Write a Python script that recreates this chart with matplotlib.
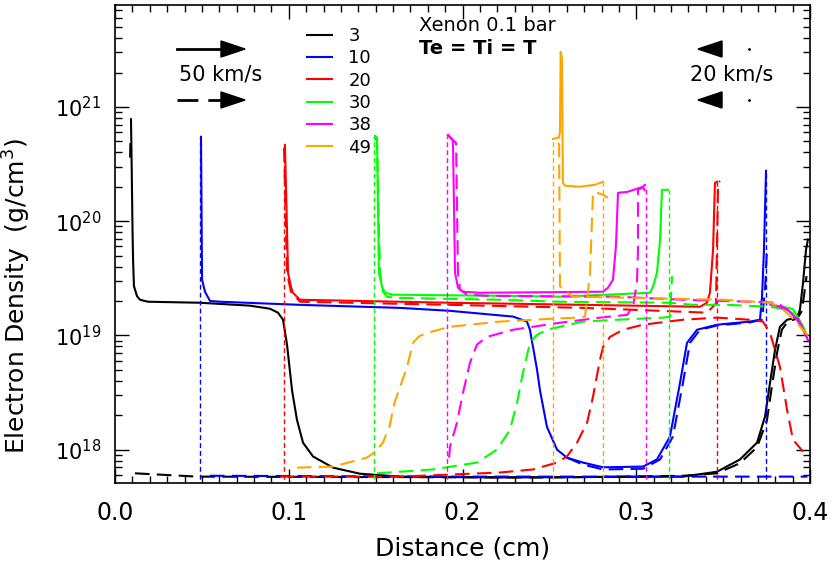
import numpy as np
import matplotlib.pyplot as plt
from matplotlib.patches import Polygon
from matplotlib.ticker import MultipleLocator, LogLocator, FormatStrFormatter, NullFormatter

nan = np.nan

# legend labels (times) and colours
times = ['3', '10', '20', '30', '38', '49']
colors = ['black', '#0000ff', '#ff0000', '#00ff00', '#ff00ff', '#ffa500']

# t = 3 : solid and long dashed
x3 = [0.0092, 0.0096, 0.0101, 0.0104, 0.0109, 0.0127, 0.0144, 0.0190, 0.0489, 0.0777, 0.0892, 0.0938,
      0.0967, 0.0990, 0.1019, 0.1047, 0.1082, 0.1140, 0.1255, 0.1410, 0.1640, 0.2216, 0.3269, 0.3465,
      0.3597, 0.3695, 0.3741, 0.3770, 0.3799, 0.3827, 0.3868, 0.3925, 0.3942, 0.3960, 0.3977, 0.3988]
n3 = [7.8e20, 3.0e20, 8.0e19, 4.6e19, 2.7e19, 2.2e19, 2.05e19, 1.97e19, 1.93e19, 1.82e19, 1.71e19, 1.58e19,
      1.37e19, 8.3e18, 3.3e18, 1.83e18, 1.15e18, 8.7e17, 6.95e17, 6.15e17, 5.8e17, 5.7e17, 5.8e17, 6.4e17,
      8.2e17, 1.15e18, 1.94e18, 3.85e18, 7.5e18, 1.19e19, 1.37e19, 1.43e19, 1.67e19, 2.9e19, 5.6e19, 6.9e19]
x3d = [0.0087, 0.0089, nan, 0.0115, 0.0472, 0.2500, 0.3269, 0.3465, 0.3597, 0.3695, 0.3752,
       0.3781, 0.3810, 0.3838, 0.3873, 0.3925, 0.3950, 0.3965, 0.3980]
n3d = [3.6e20, 5.1e20, nan, 6.2e17, 5.8e17, 5.7e17, 5.9e17, 6.2e17, 7.6e17, 1.05e18, 1.8e18,
       3.6e18, 7.0e18, 1.12e19, 1.33e19, 1.4e19, 1.6e19, 2.2e19, 3.3e19]

# t = 10
x10 = [0.0495, 0.0501, 0.0518, 0.0547, 0.0604, 0.1065, 0.1640, 0.1928, 0.2291, 0.2371, 0.2388, 0.2406,
       0.2429, 0.2446, 0.2486, 0.2544, 0.2601, 0.2693, 0.2809, 0.3039, 0.3119, 0.3194, 0.3252, 0.3292,
       0.3350, 0.3465, 0.3655, 0.3712, 0.3724, 0.3735, 0.3747]
n10 = [5.47e20, 3.07e19, 2.41e19, 2.0e19, 1.97e19, 1.85e19, 1.74e19, 1.64e19, 1.46e19, 1.32e19, 1.12e19, 7.9e18,
       5.0e18, 3.3e18, 1.58e18, 1.0e18, 8.5e17, 7.7e17, 7.0e17, 7.1e17, 8.2e17, 1.3e18, 3.85e18, 8.6e18,
       1.12e19, 1.24e19, 1.32e19, 1.37e19, 2.18e19, 5.6e19, 2.76e20]
x10d = [0.0547, 0.2000, 0.3985, nan,
        0.2601, 0.2693, 0.2809, 0.3039, 0.3137, 0.3211, 0.3269, 0.3309, 0.3367, 0.3465, 0.3655, 0.3724,
        0.3741, 0.3752]
n10d = [5.9e17, 5.8e17, 5.8e17, nan,
        8.5e17, 7.4e17, 6.7e17, 6.8e17, 8.2e17, 1.3e18, 3.85e18, 8.6e18, 1.12e19, 1.22e19, 1.3e19, 1.37e19,
        2.5e19, 5.6e19]

# t = 20
x20 = [0.0978, 0.0996, 0.1013, 0.1024, 0.1065, 0.1928, 0.2693, 0.3367, 0.3407, 0.3424, 0.3442, 0.3453, 0.3465]
n20 = [4.65e20, 3.53e19, 2.66e19, 2.36e19, 2.05e19, 1.93e19, 1.85e19, 1.78e19, 1.93e19, 2.36e19, 5.6e19,
       2.16e20, 2.21e20]
x20d = [0.0973, 0.0990, 0.1013, 0.1065, 0.1928, 0.2693, 0.3137, 0.3407, 0.3459, 0.3471, 0.3482, nan,
        0.0950, 0.1640, 0.2216, 0.2406, 0.2544, 0.2601, 0.2659, 0.2717, 0.2751, 0.2791, 0.2809, 0.2849,
        0.2924, 0.3039, 0.3269, 0.3465, 0.3655, 0.3729, 0.3770, 0.3827, 0.3868, 0.3902, 0.3960]
n20d = [4.4e20, 3.5e19, 2.4e19, 1.97e19, 1.85e19, 1.74e19, 1.64e19, 1.58e19, 1.9e19, 2.16e20, 2.25e20, nan,
        5.8e17, 5.8e17, 6.3e17, 6.7e17, 7.7e17, 8.7e17, 1.15e18, 1.72e18, 2.9e18, 6.1e18, 7.9e18, 9.7e18,
        1.12e19, 1.24e19, 1.37e19, 1.43e19, 1.37e19, 1.32e19, 1.05e19, 5.3e18, 2.23e18, 1.22e18, 9.6e17]

# t = 30
x30 = [0.1496, 0.1508, 0.1519, 0.1537, 0.1554, 0.1600, 0.2216, 0.2561, 0.3079, 0.3096, 0.3119, 0.3137,
       0.3148, 0.3183, nan, 0.3770, 0.3845, 0.3902, 0.3960, 0.3983]
n30 = [5.58e20, 5.36e20, 3.53e19, 2.66e19, 2.36e19, 2.27e19, 2.22e19, 2.18e19, 2.36e19, 2.66e19, 3.53e19,
       6.86e19, 1.88e20, 1.88e20, nan, 1.85e19, 1.78e19, 1.7e19, 1.2e19, 1.0e19]
x30d = [0.1491, 0.1508, 0.1525, 0.1542, 0.1565, 0.1612, 0.2216, 0.2561, 0.3194, 0.3327, 0.3522, 0.3770,
        0.3845, 0.3902, 0.3960, 0.3983, nan,
        0.1508, 0.1830, 0.2083, 0.2199, 0.2273, 0.2314, 0.2348, 0.2388, 0.2429, 0.2486, 0.2561, 0.2693,
        0.2889, 0.3154, 0.3194, 0.3206]
n30d = [5.5e20, 5.0e20, 3.5e19, 2.41e19, 2.18e19, 2.13e19, 2.05e19, 1.97e19, 1.93e19, 1.85e19, 1.85e19, 1.78e19,
        1.7e19, 1.55e19, 1.1e19, 9.5e18, nan,
        6.2e17, 6.7e17, 7.7e17, 1.0e18, 1.49e18, 2.57e18, 4.7e18, 8.6e18, 1.01e19, 1.12e19, 1.19e19, 1.32e19,
        1.37e19, 1.43e19, 1.46e19, 3.3e19]

# t = 38
x38 = [0.1917, 0.1945, 0.1957, 0.1974, 0.2003, 0.2101, 0.2809, 0.2837, 0.2866, 0.2883, 0.2895, 0.2947,
       0.3039, 0.3050, nan, 0.3770, 0.3873, 0.3942, 0.3988]
n38 = [5.69e20, 5.14e20, 3.53e19, 2.61e19, 2.41e19, 2.36e19, 2.41e19, 2.61e19, 3.07e19, 6.0e19, 1.77e20, 1.80e20,
       2.0e20, 2.08e20, nan, 1.89e19, 1.67e19, 1.29e19, 9.1e18]
x38d = [0.1911, 0.1963, 0.1974, 0.1986, 0.2026, 0.2141, 0.2889, 0.3269, 0.3655, 0.3810, 0.3925, 0.3983, nan,
        0.1923, 0.1928, 0.1968, 0.2003, 0.2043, 0.2083, 0.2141, 0.2291, 0.2561, 0.2791, 0.2947, 0.2981,
        0.3004, 0.3010, 0.3010, 0.3039, 0.3056, 0.3067]
n38d = [5.7e20, 4.84e20, 3.5e19, 2.51e19, 2.27e19, 2.22e19, 2.18e19, 2.05e19, 1.97e19, 1.93e19, 1.46e19, 9.5e18, nan,
        8.5e17, 1.06e18, 1.72e18, 3.15e18, 5.75e18, 8.3e18, 9.7e18, 1.12e19, 1.29e19, 1.43e19, 1.51e19, 1.78e19,
        2.88e19, 5.6e19, 1.88e20, 1.97e20, 1.8e20, 1.7e20]

# t = 49
x49 = [0.2521, 0.2555, 0.2561, 0.2565, 0.2572, 0.2578, 0.2590, 0.2676, 0.2763, 0.2809]
n49 = [5.25e20, 5.4e20, 6.0e20, 3.03e21, 2.7e21, 2.16e20, 2.04e20, 2.0e20, 2.08e20, 2.21e20]
x49d = [0.2550, 0.2556, 0.2561, 0.2578, 0.2636, 0.3000, 0.3500, 0.3770, 0.3827, 0.3902, 0.3983, nan,
        0.1047, 0.1255, 0.1450, 0.1500, 0.1542, 0.1580, 0.1610, 0.1681, 0.1715, 0.1750, 0.1796, 0.1928,
        0.2216, 0.2521, 0.2659, 0.2705, 0.2734, 0.2745, 0.2751, 0.2763, 0.2809, 0.2837]
n49d = [4.84e20, 4.7e20, 2.7e19, 2.51e19, 2.18e19, 2.13e19, 2.05e19, 1.93e19, 1.78e19, 1.4e19, 1.02e19, nan,
        6.95e17, 7.1e17, 8.5e17, 9.6e17, 1.15e18, 1.6e18, 2.6e18, 5.3e18, 8.6e18, 9.8e18, 1.05e19, 1.19e19,
        1.32e19, 1.4e19, 1.43e19, 1.46e19, 3.5e19, 1.0e20, 1.77e20, 1.8e20, 1.7e20, 1.6e20]

# shock positions (short dashed verticals) and their tops
sx = [[], [0.0489, 0.3747], [0.0973, 0.3465], [0.1491, 0.3188], [0.1911, 0.3056], [0.2521, 0.2809]]
st = [[], [5.4e20, 2.7e20], [4.5e20, 2.2e20], [5.4e20, 1.88e20], [5.6e20, 1.9e20], [5.25e20, 2.2e20]]

solid_x = [x3, x10, x20, x30, x38, x49]
solid_n = [n3, n10, n20, n30, n38, n49]
dash_x = [x3d, x10d, x20d, x30d, x38d, x49d]
dash_n = [n3d, n10d, n20d, n30d, n38d, n49d]

plt.rcParams['font.family'] = 'DejaVu Sans'
fig = plt.figure(figsize=(8.34, 5.71), dpi=100)
ax = fig.add_axes([115 / 834, 88 / 571, 695 / 834, 478 / 571])
ax.set_yscale('log')

handles = []
for i in range(6):
    h, = ax.plot(solid_x[i], solid_n[i], color=colors[i], lw=1.5, label=times[i])
    handles.append(h)
    ax.plot(dash_x[i], dash_n[i], color=colors[i], lw=1.5, linestyle=(0, (7, 3.5)))
    if sx[i]:
        ax.vlines(sx[i], 4e17, st[i], colors=colors[i], lw=1.0, linestyles=(0, (3.5, 2.2)))

ax.set_xlim(0, 0.4)
ax.set_ylim(5.1e17, 7.8e21)

ax.xaxis.set_major_locator(MultipleLocator(0.1))
ax.xaxis.set_minor_locator(MultipleLocator(0.01))
ax.xaxis.set_major_formatter(FormatStrFormatter('%.1f'))
ax.yaxis.set_minor_locator(LogLocator(base=10, subs=np.arange(2, 10)))
ax.yaxis.set_minor_formatter(NullFormatter())
ax.tick_params(which='both', direction='in', top=True, right=True, width=1.0)
ax.tick_params(which='major', length=10)
ax.tick_params(which='minor', length=5)
ax.tick_params(axis='x', pad=13, labelsize=17)
ax.tick_params(axis='y', pad=10, labelsize=15)
for s in ax.spines.values():
    s.set_linewidth(1.2)

ax.set_xlabel('Distance (cm)', fontsize=18, labelpad=8)
ax.set_ylabel('Electron Density  (g/cm$^3$)', fontsize=18)
ax.yaxis.set_label_coords(-0.118, 0.39)

ax.legend(handles=handles, loc='upper left', bbox_to_anchor=(0.2763, 0.954), frameon=False,
          fontsize=13, handlelength=1.38, handletextpad=0.9, labelspacing=0.24,
          borderpad=0, borderaxespad=0)

# annotations
ax.text(0.4374, 0.958, 'Xenon 0.1 bar', transform=ax.transAxes, fontsize=14, va='center', ha='left')
ax.text(0.4374, 0.908, 'Te = Ti = T', transform=ax.transAxes, fontsize=14, va='center', ha='left',
        fontweight='bold')
ax.text(0.1525, 0.8536, '50 km/s', transform=ax.transAxes, fontsize=15, va='center', ha='center')
ax.text(0.8878, 0.8536, '20 km/s', transform=ax.transAxes, fontsize=15, va='center', ha='center')

# velocity arrows
ax.plot([0.0892, 0.155], [0.9079, 0.9079], transform=ax.transAxes, color='black', lw=2)
ax.plot([0.0892, 0.155], [0.8013, 0.8013], transform=ax.transAxes, color='black', lw=2,
        linestyle=(0, (7.5, 3.6)))
for yc in [0.9079, 0.8013]:
    ax.add_patch(Polygon([[0.1525, yc + 0.0168], [0.1525, yc - 0.0168], [0.1871, yc]],
                         closed=True, transform=ax.transAxes, color='black'))
    ax.add_patch(Polygon([[0.8734, yc + 0.0168], [0.8734, yc - 0.0168], [0.8388, yc]],
                         closed=True, transform=ax.transAxes, color='black'))
    ax.plot([0.9122], [yc], transform=ax.transAxes, marker='.', ms=2, color='black')

fig.savefig('out.png', dpi=100)
